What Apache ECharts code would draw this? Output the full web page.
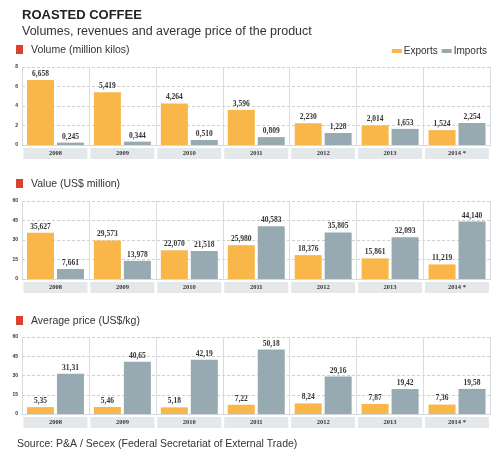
<!DOCTYPE html>
<html><head><meta charset="utf-8">
<script src="https://cdn.jsdelivr.net/npm/echarts@6/dist/echarts.min.js"></script>
<style>html,body{margin:0;padding:0;background:#fff}#c{width:492px;height:450px}</style>
</head><body><div id="c"></div>
<script>
var years = ['2008','2009','2010','2011','2012','2013','2014 *'];
var volExports = [6.658, 5.419, 4.264, 3.596, 2.230, 2.014, 1.524];
var volImports = [0.245, 0.344, 0.510, 0.809, 1.228, 1.653, 2.254];
var valExports = [35.627, 29.573, 22.070, 25.980, 18.376, 15.861, 11.219];
var valImports = [7.661, 13.978, 21.518, 40.583, 35.805, 32.093, 44.140];
var priceExports = [5.35, 5.46, 5.18, 7.22, 8.24, 7.87, 7.36];
var priceImports = [31.31, 40.65, 42.19, 50.18, 29.16, 19.42, 19.58];

var ORANGE = '#f9b649', GRAY = '#97aab1';
var FONT = 'Liberation Sans, Arial, sans-serif';

var grids = [
  {left:22, right:1, top:67, height:78},
  {left:22, right:1, top:201, height:78},
  {left:22, right:1, top:337, height:77}
];
var yMax = [8, 60, 60], yInt = [2, 15, 15];
var decimals = [3, 3, 2];

function fmt(d){ return function(p){ return p.value.toFixed(d).replace('.', ','); }; }

var xAxis = [], yAxis = [], series = [];
var exportsData = [volExports, valExports, priceExports];
var importsData = [volImports, valImports, priceImports];
for (var i = 0; i < 3; i++) {
  xAxis.push({
    type:'category', gridIndex:i, data:years,
    axisLine:{show:true, lineStyle:{color:'#d5d9dc', width:1}},
    axisTick:{show:false},
    splitLine:{show:true, lineStyle:{color:'#d9dcde', width:1}},
    axisLabel:{fontSize:6.5, fontWeight:'bold', color:'#333', fontFamily:'Liberation Serif, serif',
      backgroundColor:'#e4e8eb', width:64, height:11, lineHeight:11, align:'center', margin:3}
  });
  yAxis.push({
    type:'value', gridIndex:i, min:0, max:yMax[i], interval:yInt[i],
    axisLine:{show:false}, axisTick:{show:false},
    splitLine:{show:true, lineStyle:{color:'#d0d0d0', type:[3,2], width:1}},
    axisLabel:{fontSize:5, fontWeight:'bold', color:'#333', margin:4, fontFamily:FONT}
  });
  var lbl = {show:true, position:'top', distance:2, fontSize:7.5, fontWeight:'bold', color:'#333',
             fontFamily:'Liberation Serif, serif', formatter: fmt(decimals[i])};
  series.push({name:'Exports', type:'bar', xAxisIndex:i, yAxisIndex:i, data:exportsData[i],
    barWidth:27, barGap:'11%', itemStyle:{color:ORANGE}, label:lbl, silent:true});
  series.push({name:'Imports', type:'bar', xAxisIndex:i, yAxisIndex:i, data:importsData[i],
    barWidth:27, barGap:'11%', itemStyle:{color:GRAY}, label:lbl, silent:true});
}

function header(y, text){
  return [
    {type:'rect', left:16, top:y-5, shape:{width:7, height:9}, style:{fill:'#d9432e'}},
    {type:'text', left:31, top:y-5, style:{text:text, fontSize:10.5, fontFamily:FONT, fill:'#333'}}
  ];
}

var option = {
  animation:false,
  backgroundColor:'#fff',
  title:[
    {text:'ROASTED COFFEE', left:17, top:4, textStyle:{fontSize:13, fontWeight:'bold', color:'#222', fontFamily:FONT}},
    {text:'Volumes, revenues and average price of the product', left:17, top:20, textStyle:{fontSize:12.5, fontWeight:'normal', color:'#333', fontFamily:FONT}}
  ],
  legend:{data:['Exports','Imports'], right:0, top:41, itemWidth:10, itemHeight:4, itemGap:4,
    icon:'rect', textStyle:{fontSize:10, color:'#333', fontFamily:FONT, padding:[0,0,0,-3]}},
  grid:grids, xAxis:xAxis, yAxis:yAxis, series:series,
  graphic:[].concat(
    header(50, 'Volume (million kilos)'),
    header(184, 'Value (US$ million)'),
    header(321, 'Average price (US$/kg)'),
    [{type:'text', left:17, top:439, style:{text:'Source: P&A / Secex (Federal Secretariat of External Trade)', fontSize:10.5, fontFamily:FONT, fill:'#333'}}]
  )
};
var chart = echarts.init(document.getElementById('c'));
chart.setOption(option);
</script>
</body></html>
